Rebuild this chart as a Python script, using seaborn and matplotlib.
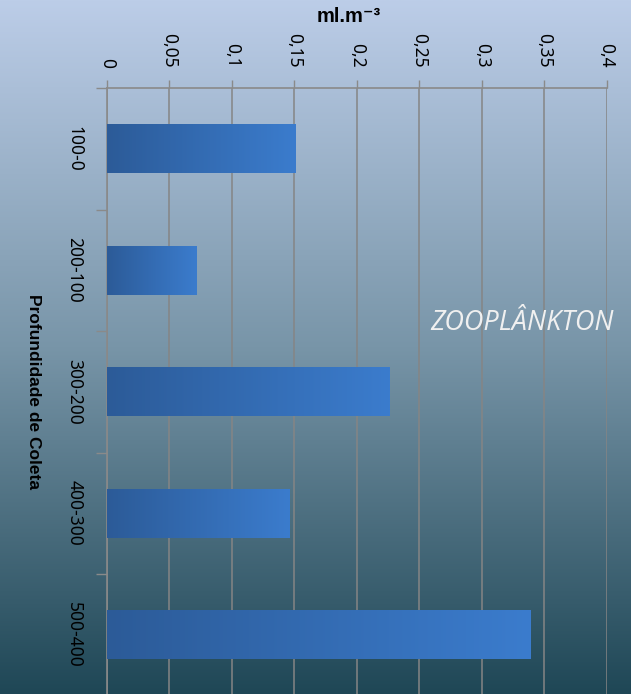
import numpy as np
import pandas as pd
import matplotlib
matplotlib.use("Agg")
import matplotlib.pyplot as plt
import seaborn as sns
from matplotlib.colors import LinearSegmentedColormap

# ---- data ----
categories = ["100-0", "200-100", "300-200", "400-300", "500-400"]
values = [0.151, 0.072, 0.226, 0.146, 0.339]
x_ticks = [0, 0.05, 0.1, 0.15, 0.2, 0.25, 0.3, 0.35, 0.4]
x_tick_labels = ["0", "0,05", "0,1", "0,15", "0,2", "0,25", "0,3", "0,35", "0,4"]
x_label = "ml.m⁻³"
y_label = "Profundidade de Coleta"
title = "ZOOPLÂNKTON"

sns.set_theme(style="white")
plt.rcParams["font.family"] = ["Noto Sans", "DejaVu Sans"]

W, H = 631, 694
fig = plt.figure(figsize=(W / 100, H / 100), dpi=100)

# background gradient
bg = fig.add_axes([0, 0, 1, 1], zorder=-10)
cmap_bg = LinearSegmentedColormap.from_list(
    "bg", [(0, "#bccde8"), (0.5, "#7895a8"), (1, "#1f4756")])
bg.imshow(np.linspace(0, 1, 256).reshape(-1, 1), aspect="auto", cmap=cmap_bg,
          extent=[0, 1, 0, 1], origin="upper")
bg.set_axis_off()

x0, x1 = 107, 606.5
y0, y1 = 88, 695.5
ax = fig.add_axes([x0 / W, 1 - y1 / H, (x1 - x0) / W, (y1 - y0) / H])
ax.patch.set_alpha(0)

df = pd.DataFrame({"depth": categories, "value": values})
sns.barplot(data=df, x="value", y="depth", orient="h", color="#3470b8",
            width=0.4, saturation=1, linewidth=0, ax=ax, zorder=3)

# gradient fill for the bars
cmap_bar = LinearSegmentedColormap.from_list("bar", ["#2c5b98", "#3b7ccd"])
grad = np.linspace(0, 1, 256).reshape(1, -1)
for p in list(ax.patches):
    p.set_edgecolor("none")
    bx, by = p.get_x(), p.get_y()
    bw, bh = p.get_width(), p.get_height()
    im = ax.imshow(grad, aspect="auto", cmap=cmap_bar,
                   extent=[bx, bx + bw, by + bh, by], zorder=3.5,
                   interpolation="bilinear")
    im.set_clip_path(p)

ax.set_xlim(0, 0.4)
ax.set_ylim(4.5, -0.5)

gray = "#8a8a8a"
ax.xaxis.tick_top()
ax.set_xticks(x_ticks)
ax.set_xticklabels(x_tick_labels, rotation=-90)
ax.tick_params(axis="x", which="major", direction="out", length=6, width=1,
               color=gray, pad=8.6, labelsize=12.5, labelcolor="black",
               top=True, bottom=False, labeltop=True, labelbottom=False)
ax.grid(axis="x", color="#858585", linewidth=1.1)
ax.grid(axis="y", visible=False)
ax.set_axisbelow(True)

ax.set_yticks(range(len(categories)))
ax.set_yticklabels(categories, rotation=-90, va="center")
ax.set_yticks([-0.5, 0.5, 1.5, 2.5, 3.5], minor=True)
ax.tick_params(axis="y", which="major", length=0, pad=17, labelsize=12.5,
               labelcolor="black", left=True)
ax.tick_params(axis="y", which="minor", length=8, width=1, color=gray,
               left=True, direction="out")

for s in ["right", "bottom"]:
    ax.spines[s].set_visible(False)
for s in ["left", "top"]:
    ax.spines[s].set_visible(True)
    ax.spines[s].set_color(gray)
    ax.spines[s].set_linewidth(1.2)

ax.set_xlabel("")
ax.set_ylabel("")

bold_family = ["Liberation Sans", "DejaVu Sans"]
fig.text(349 / W, 1 - 17 / H, x_label, ha="center", va="center",
         fontsize=14.5, fontweight="bold", color="black", family=bold_family)
fig.text(33 / W, 1 - 392 / H, y_label, ha="center", va="center",
         rotation=-90, fontsize=12.5, fontweight="bold", color="black",
         family=bold_family)
fig.text(522 / W, 1 - 323 / H, title, ha="center", va="center",
         fontsize=19.5, fontstyle="italic", color="#f0f0f0",
         family=["Open Sans", "DejaVu Sans"])

fig.savefig("out.png", dpi=100)
